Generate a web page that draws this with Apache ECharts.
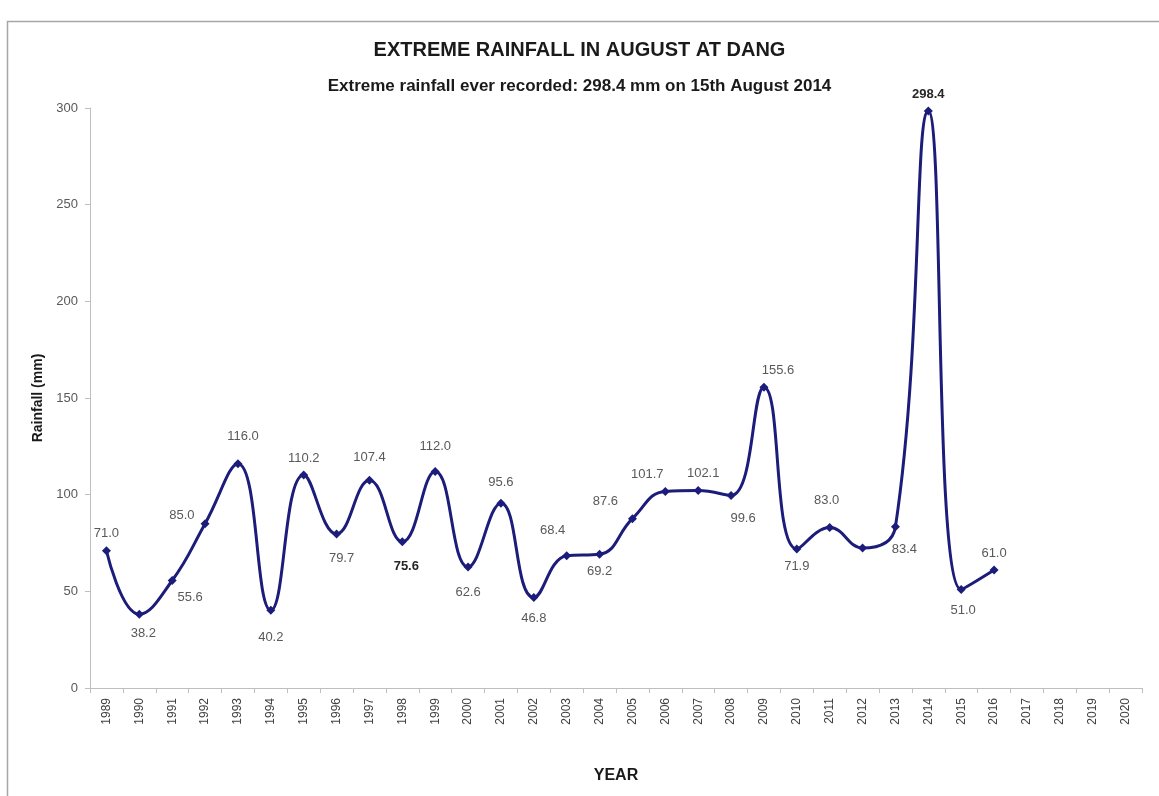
<!DOCTYPE html>
<html>
<head>
<meta charset="utf-8">
<script src="https://cdn.jsdelivr.net/npm/echarts@6/dist/echarts.min.js"></script>
<style>
html,body{margin:0;padding:0;background:#fff;}
#chart{width:1159px;height:796px;}
</style>
</head>
<body>
<div id="chart"></div>
<script>
var years = ['1989','1990','1991','1992','1993','1994','1995','1996','1997','1998','1999','2000','2001','2002','2003','2004','2005','2006','2007','2008','2009','2010','2011','2012','2013','2014','2015','2016','2017','2018','2019','2020'];
var rainfall = [71.0,38.2,55.6,85.0,116.0,40.2,110.2,79.7,107.4,75.6,112.0,62.6,95.6,46.8,68.4,69.2,87.6,101.7,102.1,99.6,155.6,71.9,83.0,72.4,83.4,298.4,51.0,61.0];
// label placement per point: [position, dx, dy]
var labelPos = [
  ['top',0,0],['bottom',4,2],['bottom',18,0],['left',0,-8],['top',5,-10],
  ['bottom',0,10],['top',0,0],['bottom',5,8],['top',0,-6],['bottom',4,8],
  ['top',0,-8],['bottom',0,8],['top',0,-4],['bottom',0,4],['top',-14,-8],
  ['bottom',0,0],['top',-27,0],['top',-18,0],['top',5,0],['bottom',12,6],
  ['top',14,0],['bottom',0,0],['top',-3,-10],null,['bottom',9,6],
  ['top',0,0],['bottom',2,4],['top',0,0]
];
var boldIdx = [9,25];

var data = rainfall.map(function(v,i){
  var lp = labelPos[i];
  var item = {value:v};
  if(!lp){ item.label = {show:false}; return item; }
  item.label = {
    show:true, position:lp[0], offset:[lp[1],lp[2]],
    fontWeight: boldIdx.indexOf(i)>=0 ? 'bold' : 'normal',
    color: boldIdx.indexOf(i)>=0 ? '#262626' : '#595959',
    formatter: function(p){ return p.value.toFixed(1); }
  };
  return item;
});

var chart = echarts.init(document.getElementById('chart'));
chart.setOption({
  backgroundColor:'#ffffff',
  animation:false,
  title:[
    {text:'EXTREME RAINFALL IN AUGUST AT DANG', left:'center', top:35,
     textStyle:{fontFamily:'Liberation Sans', fontWeight:'bold', fontSize:20, color:'#1a1a1a'}},
    {text:'Extreme rainfall ever recorded: 298.4 mm on 15th August 2014', left:'center', top:73,
     textStyle:{fontFamily:'Liberation Sans', fontWeight:'bold', fontSize:17, color:'#1a1a1a'}}
  ],
  graphic:[{type:'rect', shape:{x:7.5,y:21.5,width:1180,height:820}, style:{fill:'none', stroke:'#a6a6a6', lineWidth:1.5}, silent:true}],
  grid:{left:90, right:17, top:108, bottom:108},
  xAxis:{
    type:'category', data:years, boundaryGap:true,
    name:'YEAR', nameLocation:'middle', nameGap:80,
    nameTextStyle:{fontFamily:'Liberation Sans', fontWeight:'bold', fontSize:16, color:'#1a1a1a'},
    axisLine:{lineStyle:{color:'#bfbfbf', width:1}},
    axisTick:{show:true, length:5, lineStyle:{color:'#bfbfbf'}},
    axisLabel:{rotate:90, fontFamily:'Liberation Sans', fontSize:12, color:'#404040', margin:10},
    splitLine:{show:false}
  },
  yAxis:{
    type:'value', min:0, max:300, interval:50,
    name:'Rainfall (mm)', nameLocation:'middle', nameGap:45,
    nameTextStyle:{fontFamily:'Liberation Sans', fontWeight:'bold', fontSize:14, color:'#1a1a1a'},
    axisLine:{show:true, lineStyle:{color:'#bfbfbf', width:1}},
    axisTick:{show:true, length:5, lineStyle:{color:'#bfbfbf'}},
    axisLabel:{fontFamily:'Liberation Sans', fontSize:13, color:'#595959', margin:12},
    splitLine:{show:false}
  },
  series:[{
    type:'line', data:data, smooth:0.45,
    symbol:'diamond', symbolSize:9,
    lineStyle:{color:'#1c1c7a', width:3},
    itemStyle:{color:'#1c1c7a'},
    label:{fontFamily:'Liberation Sans', fontSize:13, distance:6}
  }]
});
</script>
</body>
</html>
